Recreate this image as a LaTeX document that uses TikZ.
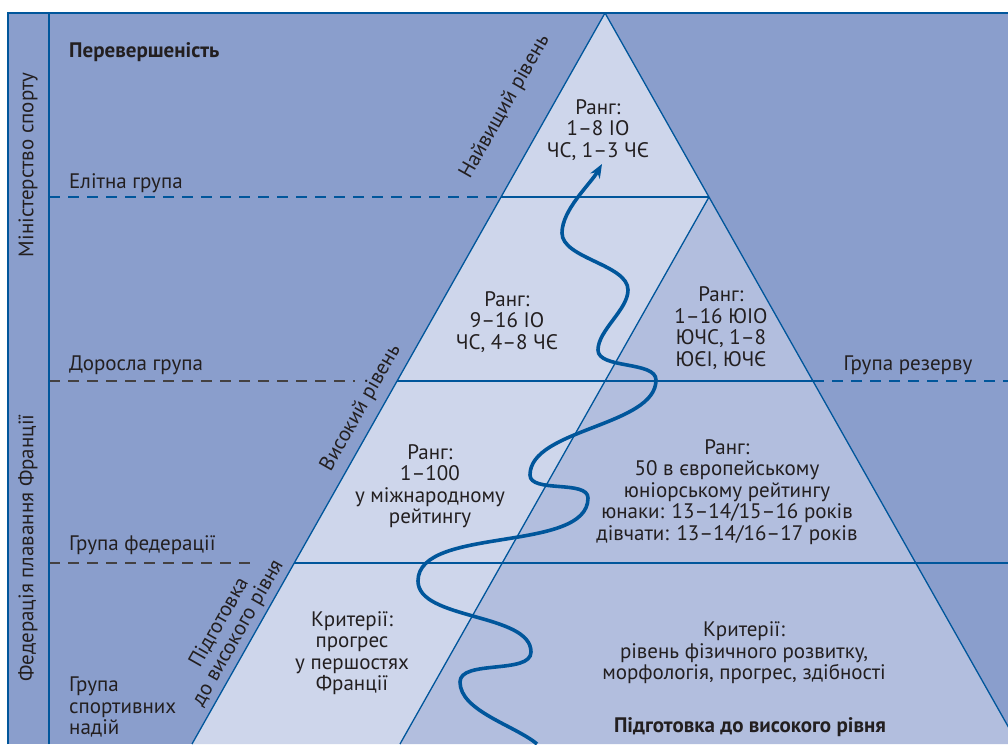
\documentclass[tikz,border=0pt]{standalone}
\usepackage{fontspec}
\setmainfont{PT Sans}
\usetikzlibrary{arrows.meta, positioning}

\definecolor{bgblue}{RGB}{138,158,204}
\definecolor{lightblue}{RGB}{206,214,235}
\definecolor{midblue}{RGB}{178,190,222}
\definecolor{lineblue}{RGB}{0,86,155}
\definecolor{txtgray}{RGB}{35,31,32}

\begin{document}
\begin{tikzpicture}[
    x=1pt, y=1pt,
    every node/.style={font=\fontsize{21}{21.5}\selectfont, align=center, text=txtgray, inner sep=0pt},
    group/.style={anchor=west, align=left},
    side/.style={rotate=90},
    level/.style={rotate=60.5},
    edge/.style={draw=lineblue, line width=1.3pt},
    guide/.style={dash pattern=on 11pt off 8pt, line width=1.3pt},
    wave/.style={-{Stealth[length=14pt, width=11pt]}, draw=lineblue, line width=3.6pt, looseness=0.75}
]
\useasboundingbox (0,0) rectangle (1008,744);

% background and frame
\fill[bgblue] (8,0) rectangle (1008,731);
\coordinate (apex) at (605,731);
\coordinate (bl) at (192,0);
\coordinate (br) at (1018,0);
\coordinate (split) at (709,547);
\coordinate (foot) at (400,0);

% pyramid
\fill[lightblue] (apex) -- (split) -- (foot) -- (bl) -- cycle;
\fill[midblue] (split) -- (br) -- (foot) -- cycle;
\draw[edge] (apex) -- (bl);
\draw[edge] (apex) -- (br);
\draw[edge] (split) -- (foot);
\draw[edge] (501,547) -- (split);
\draw[edge] (397,363) -- (813,363);
\draw[edge] (294,181) -- (1008,181);

% dashed level lines
\draw[guide, lineblue] (49,547) -- (501,547);
\draw[guide, txtgray!85] (49,363) -- (355,363);
\draw[guide, txtgray!85] (49,181) -- (257,181);
\draw[guide, lineblue] (813,363) -- (1008,363);

\draw[edge, line width=1.8pt] (8,0) -- (8,731) -- (1008,731);
\draw[edge, line width=1.6pt] (49,0) -- (49,731);

% side labels
\node[side] (ministry) at (28,579) {Міністерство спорту};
\node[side] (federation) at (28,196) {Федерація плавання Франції};

% groups
\node[group, font=\fontsize{21}{21.5}\selectfont\bfseries] (excel) at (69,692) {Перевершеність};
\node[group] (elite) at (69,561) {Елітна група};
\node[group] (adult) at (69,379) {Доросла група};
\node[group] (fed) at (69,199) {Група федерації};
\node[group] (hope) at (69,37) {Група\\спортивних\\надій};
\node (reserve) at (908,379) {Група резерву};

% levels along the edge
\node[level] (top) at (505,637) {Найвищий рівень};
\node[level] (high) at (361,336) {Високий рівень};
\node[level] (prep) at (229,116) {Підготовка\\до високого рівня};

% ranks and criteria
\node (rank1) at (598,614) {Ранг:\\1–8 ІО\\ЧС, 1–3 ЧЄ};
\node (rank2) at (507,422) {Ранг:\\9–16 ІО\\ЧС, 4–8 ЧЄ};
\node (rank3) at (721,416) {Ранг:\\1–16 ЮІО\\ЮЧС, 1–8\\ЮЄІ, ЮЧЄ};
\node (rank4) at (430,258) {Ранг:\\1–100\\у міжнародному\\рейтингу};
\node (rank5) at (727,252) {Ранг:\\50 в європейському\\юніорському рейтингу\\юнаки: 13–14/15–16 років\\дівчати: 13–14/16–17 років};
\node (crit1) at (352,91) {Критерії:\\прогрес\\у першостях\\Франції};
\node (crit2) at (744,91) {Критерії:\\рівень фізичного розвитку,\\морфологія, прогрес, здібності};
\node[font=\fontsize{21}{21.5}\selectfont\bfseries] (prepbold) at (750,17) {Підготовка до високого рівня};

% path to the top
\draw[wave] (537,0) to[out=140,in=-90] (460,62)
  to[out=90,in=-90] (531,92)
  to[out=90,in=-90] (418,163)
  to[out=90,in=-90] (588,246)
  to[out=90,in=-90] (530,269)
  to[out=90,in=-90] (656,364)
  to[out=90,in=-90] (598,394)
  to[out=90,in=-90] (628,454)
  to[out=90,in=-90] (562,511)
  to[out=90,in=240] (602,580);
\end{tikzpicture}
\end{document}
